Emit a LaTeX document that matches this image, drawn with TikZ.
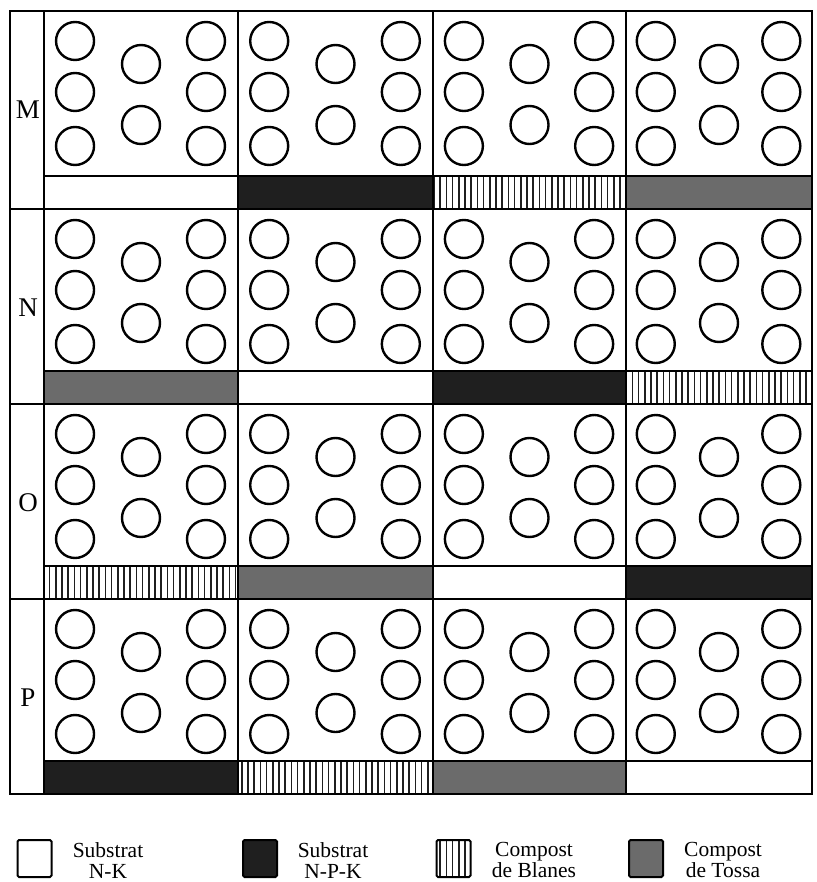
\documentclass[tikz,border=0pt]{standalone}
\usepackage{fontspec}
\setmainfont{Liberation Serif}
\usetikzlibrary{patterns.meta}

\begin{document}
\begin{tikzpicture}[x=1pt,y=-1pt,
    frame/.style={draw,line width=2.2pt},
    plant/.style={draw,line width=2.4pt},
    nk/.style={fill=white},
    npk/.style={fill=black!88},
    blanes/.style={preaction={fill=white},pattern={Lines[angle=90,distance=6.2pt,line width=1.5pt]},pattern color=black!88},
    tossa/.style={fill=black!58},
    rowlbl/.style={font=\fontsize{27}{28}\selectfont,inner sep=0pt},
    keybox/.style={draw,line width=2pt,rounded corners=1.5pt,minimum width=34pt,minimum height=37pt,inner sep=0pt},
    keytxt/.style={align=center,font=\fontsize{21.5}{21}\selectfont,inner sep=0pt,anchor=north}
  ]
  \useasboundingbox (0,0) rectangle (816,882);

  \foreach \top/\bot/\lab/\tA/\tB/\tC/\tD in {11/209/M/nk/npk/blanes/tossa,
      209/404/N/tossa/nk/npk/blanes, 404/599/O/blanes/tossa/nk/npk, 599/794/P/npk/blanes/tossa/nk}{
    \node[rowlbl] (lbl\lab) at (28,\top+99) {\lab};
    \foreach \xl/\xr/\t in {44/238/\tA,238/433/\tB,433/626/\tC,626/812/\tD}{
      \path[\t] (\xl,\bot-33) rectangle (\xr,\bot);
      \draw[frame] (\xl,\bot-33) -- (\xr,\bot-33);
      \foreach \dx/\dy in {0.16/30,0.16/81,0.16/135,0.5/53,0.5/114,0.835/30,0.835/81,0.835/135}
        \draw[plant] ({\xl+\dx*(\xr-\xl)},\top+\dy) circle[radius=19];
    }
  }

  \foreach \y in {209,404,599} \draw[frame] (10,\y) -- (812,\y);
  \foreach \x in {44,238,433,626} \draw[frame] (\x,11) -- (\x,794);
  \draw[frame,line width=2.6pt] (10,11) rectangle (812,794);

  \node[keybox,nk] (keyNK) at (34.5,858.5) {};
  \node[keytxt] (txtNK) at (108,842) {Substrat\\N-K};
  \node[keybox,npk] (keyNPK) at (260,858.5) {};
  \node[keytxt] (txtNPK) at (333,842) {Substrat\\N-P-K};
  \node[keybox,blanes] (keyBL) at (453.5,858.5) {};
  \node[keytxt] (txtBL) at (534,842) {Compost\\de Blanes};
  \node[keybox,tossa] (keyTO) at (646,858.5) {};
  \node[keytxt] (txtTO) at (723,842) {Compost\\de Tossa};
\end{tikzpicture}
\end{document}
